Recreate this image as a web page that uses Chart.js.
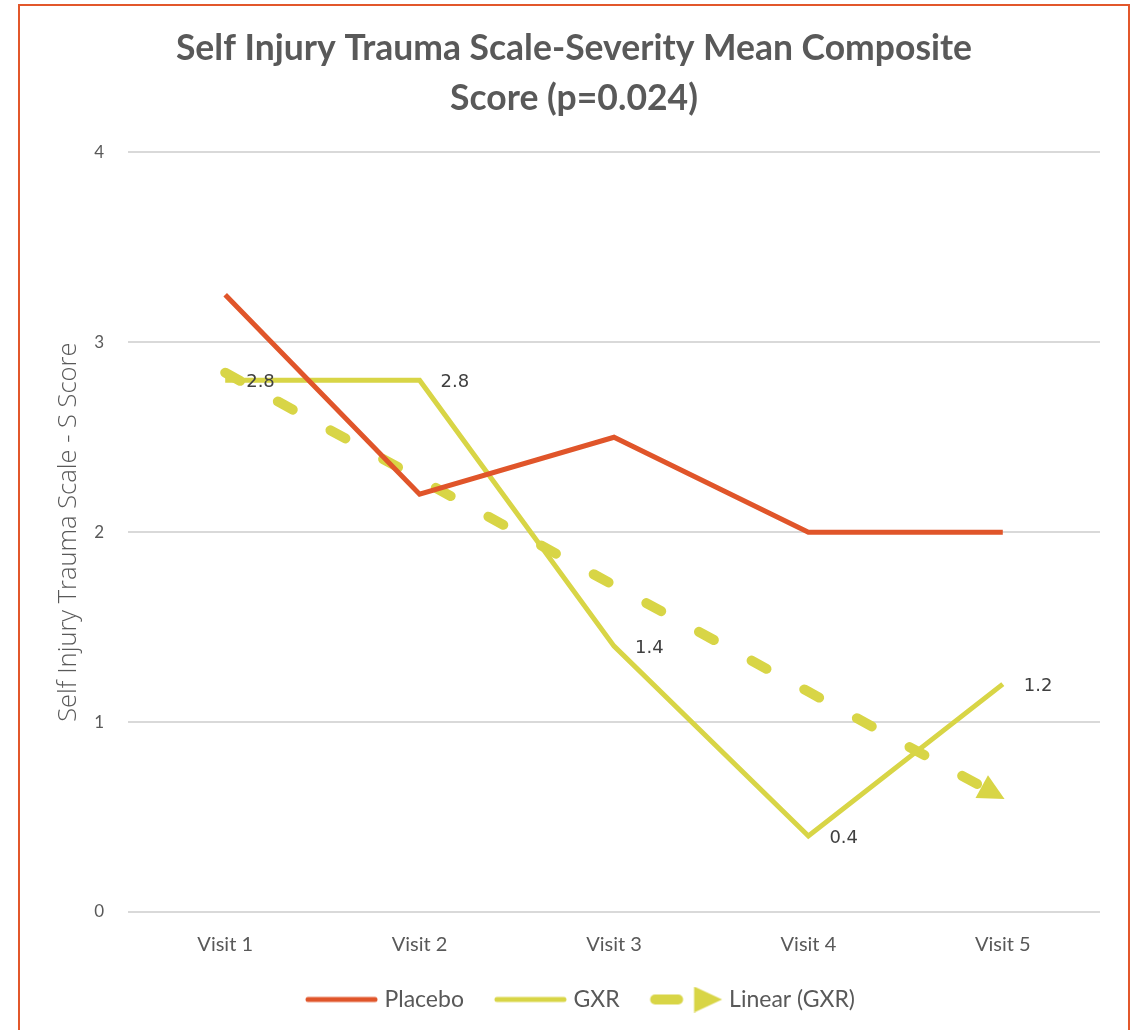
<!DOCTYPE html>
<html>
<head>
<meta charset="utf-8">
<title>Self Injury Trauma Scale-Severity</title>
<script src="https://cdn.jsdelivr.net/npm/chart.js@4.4.1/dist/chart.umd.min.js"></script>
<style>
  html, body { margin: 0; padding: 0; background: #fff; overflow: hidden; }
  #frame {
    position: absolute;
    left: 18px; top: 4px;
    width: 1108px; height: 1040px;
    border: 2px solid #e2572b;
  }
  #frame canvas { display: block; }
</style>
</head>
<body>
<div id="frame"><canvas id="sitsChart" width="1108" height="1015"></canvas></div>
<script>
// --- chart data ---
const visits = ['Visit 1', 'Visit 2', 'Visit 3', 'Visit 4', 'Visit 5'];
const placeboScores = [3.25, 2.2, 2.5, 2.0, 2.0];
const gxrScores = [2.8, 2.8, 1.4, 0.4, 1.2];
const gxrTrend = [2.84, 2.28, 1.72, 1.16, 0.6]; // linear trend line as drawn
const yTicks = [0, 1, 2, 3, 4];

const ORANGE = '#e0552a';
const YELLOW = '#d8d546';
const GREY = '#595959';

// small canvases used as legend symbols; drawn a bit to the right so the
// text sits close to the line, like the original
function makeLineSwatch(color, dashed) {
    const c = document.createElement('canvas');
    c.width = 96; c.height = 26;
    const g = c.getContext('2d');
    g.translate(20.5, 0);
    g.strokeStyle = color;
    g.fillStyle = color;
    g.lineCap = 'round';
    if (!dashed) {
        g.lineWidth = 5;
        g.beginPath(); g.moveTo(2.5, 13); g.lineTo(69.5, 13); g.stroke();
    } else {
        g.lineWidth = 10;
        g.beginPath(); g.moveTo(5, 13); g.lineTo(28, 13); g.stroke();
        g.beginPath(); g.moveTo(44, 0); g.lineTo(72, 13); g.lineTo(44, 26); g.closePath(); g.fill();
    }
    return c;
}

// arrow head at end of trend line + value labels on GXR points
const extrasPlugin = {
    id: 'extras',
    afterDatasetsDraw(chart) {
        const ctx = chart.ctx;
        const trendMeta = chart.getDatasetMeta(2);
        const pts = trendMeta.data;
        const a = pts[pts.length - 2], b = pts[pts.length - 1];
        const ang = Math.atan2(b.y - a.y, b.x - a.x);
        ctx.save();
        ctx.translate(b.x, b.y);
        ctx.rotate(ang);
        ctx.fillStyle = YELLOW;
        ctx.beginPath();
        ctx.moveTo(2, 0);
        ctx.lineTo(-24, -13);
        ctx.lineTo(-24, 13);
        ctx.closePath();
        ctx.fill();
        ctx.restore();

        const gxrMeta = chart.getDatasetMeta(1);
        ctx.save();
        ctx.font = '18px "DejaVu Sans"';
        ctx.fillStyle = '#404040';
        ctx.textBaseline = 'middle';
        gxrMeta.data.forEach((p, i) => {
            ctx.fillText(gxrScores[i].toFixed(1), p.x + 21, p.y + 2);
        });
        ctx.restore();
    }
};

const ctx = document.getElementById('sitsChart');
new Chart(ctx, {
    type: 'line',
    data: {
        labels: visits,
        datasets: [
            {
                label: 'Placebo',
                data: placeboScores,
                borderColor: ORANGE,
                backgroundColor: ORANGE,
                borderWidth: 5,
                pointRadius: 0,
                tension: 0
            },
            {
                label: 'GXR',
                data: gxrScores,
                borderColor: YELLOW,
                backgroundColor: YELLOW,
                borderWidth: 5,
                pointRadius: 0,
                tension: 0
            },
            {
                label: 'Linear (GXR)',
                data: gxrTrend,
                borderColor: YELLOW,
                backgroundColor: YELLOW,
                borderWidth: 10,
                borderDash: [17, 43],
                borderCapStyle: 'round',
                pointRadius: 0,
                tension: 0
            }
        ]
    },
    options: {
        responsive: false,
        animation: false,
        layout: { padding: 0 },
        scales: {
            x: {
                offset: true,
                grid: { display: false },
                border: { display: false },
                ticks: { color: GREY, font: { family: 'Lato', size: 20 }, padding: 13 }
            },
            y: {
                min: 0,
                max: 4,
                afterBuildTicks(scale) { scale.ticks = yTicks.map(v => ({ value: v })); },
                afterFit(scale) { scale.width = 108; },
                grid: { color: '#d9d9d9', lineWidth: 2, drawTicks: false },
                border: { display: false },
                ticks: { color: GREY, font: { family: 'Lato', size: 17 }, padding: 24 },
                title: {
                    display: true,
                    text: 'Self Injury Trauma Scale - S Score',
                    color: GREY,
                    font: { family: 'Open Sans', size: 25.5, weight: 300 },
                    padding: { top: 33, bottom: 0 }
                }
            },
            // empty right-hand axis, only keeps a margin so the title stays centred
            yRight: {
                position: 'right',
                min: 0,
                max: 4,
                afterFit(scale) { scale.width = 28; },
                grid: { display: false },
                border: { display: false },
                ticks: { display: false }
            }
        },
        plugins: {
            title: {
                display: true,
                text: ['Self Injury Trauma Scale-Severity Mean Composite', 'Score (p=0.024)'],
                color: GREY,
                font: { family: 'Lato', size: 35.5, weight: 'bold', lineHeight: 1.4 },
                padding: { top: 18, bottom: 29 }
            },
            legend: {
                position: 'bottom',
                labels: {
                    usePointStyle: true,
                    pointStyleWidth: 80,
                    color: GREY,
                    font: { family: 'Lato', size: 23 },
                    padding: 18,
                    generateLabels(chart) {
                        return chart.data.datasets.map((ds, i) => ({
                            text: ds.label,
                            pointStyle: makeLineSwatch(ds.borderColor, i === 2),
                            fillStyle: ds.borderColor,
                            strokeStyle: ds.borderColor,
                            lineWidth: 0,
                            fontColor: GREY,
                            hidden: false,
                            datasetIndex: i
                        }));
                    }
                }
            },
            tooltip: { enabled: false }
        }
    },
    plugins: [extrasPlugin]
});
</script>
</body>
</html>
